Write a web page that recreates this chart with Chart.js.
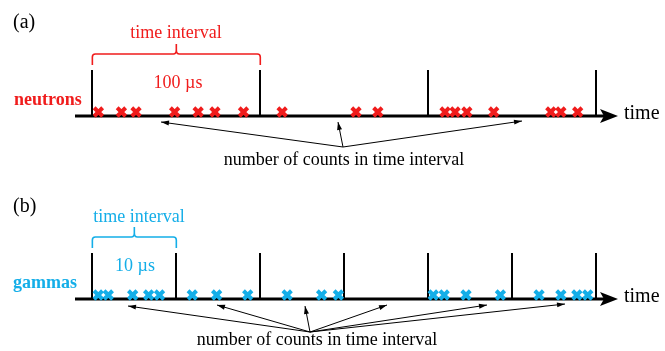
<!DOCTYPE html>
<html>
<head>
<meta charset="utf-8">
<script src="https://cdn.jsdelivr.net/npm/chart.js@4.4.0/dist/chart.umd.min.js"></script>
<style>
  html, body { margin: 0; padding: 0; background: #fff; }
  #wrap { width: 665px; height: 351px; }
</style>
</head>
<body>
<div id="wrap"><canvas id="counts" width="665" height="351"></canvas></div>
<script>
// arrival times (µs)
const neutronTimes = [3.6, 17.3, 26, 49, 63, 73, 90, 113, 157, 170, 210, 216, 223, 239, 273, 279, 289];
const gammaTimes = [0.7, 1.9, 4.8, 6.7, 8.0, 11.9, 14.8, 18.5, 23.2, 27.3, 29.3, 40.6, 41.9, 44.5, 48.6, 53.2, 55.8, 57.7, 59.0];
// interval edges (µs)
const neutronEdges = [0, 100, 200, 300];
const gammaEdges = [0, 10, 20, 30, 40, 50, 60];

const RED = "#f01c1c";
const CYAN = "#14aee8";
const SERIF = "'Liberation Serif', 'DejaVu Serif', serif";

const rowN = 1, rowG = 0;

function marks(times, row) {
    return times.map(t => ({ x: t, y: row }));
}

function arrow(ctx, x0, y0, x1, y1) {
    ctx.beginPath();
    ctx.moveTo(x0, y0);
    ctx.lineTo(x1, y1);
    ctx.stroke();
    const a = Math.atan2(y1 - y0, x1 - x0);
    ctx.beginPath();
    ctx.moveTo(x1, y1);
    ctx.lineTo(x1 - 8 * Math.cos(a) + 2.5 * Math.sin(a), y1 - 8 * Math.sin(a) - 2.5 * Math.cos(a));
    ctx.lineTo(x1 - 8 * Math.cos(a) - 2.5 * Math.sin(a), y1 - 8 * Math.sin(a) + 2.5 * Math.cos(a));
    ctx.closePath();
    ctx.fill();
}

function brace(ctx, x0, x1, y, color) {
    const xm = (x0 + x1) / 2;
    ctx.strokeStyle = color;
    ctx.lineWidth = 1.6;
    ctx.beginPath();
    ctx.moveTo(x0, y + 11);
    ctx.lineTo(x0, y + 3);
    ctx.quadraticCurveTo(x0, y, x0 + 3, y);
    ctx.lineTo(xm - 3, y);
    ctx.quadraticCurveTo(xm, y, xm, y - 4);
    ctx.lineTo(xm, y - 10);
    ctx.moveTo(xm, y - 4);
    ctx.quadraticCurveTo(xm, y, xm + 3, y);
    ctx.lineTo(x1 - 3, y);
    ctx.quadraticCurveTo(x1, y, x1, y + 3);
    ctx.lineTo(x1, y + 11);
    ctx.stroke();
}

// time axes, interval edges and braces under the marks
const axesPlugin = {
    id: "timeAxes",
    beforeDatasetsDraw(chart) {
        const ctx = chart.ctx;
        const xn = chart.scales.xn, xg = chart.scales.xg, y = chart.scales.y;
        const rows = [
            { sc: xn, yy: y.getPixelForValue(rowN) + 4, edges: neutronEdges, top: 70 },
            { sc: xg, yy: y.getPixelForValue(rowG) + 4, edges: gammaEdges, top: 253 }
        ];
        ctx.save();
        ctx.fillStyle = "#000";
        ctx.strokeStyle = "#000";
        rows.forEach(r => {
            ctx.lineWidth = 3;
            ctx.beginPath();
            ctx.moveTo(75, r.yy);
            ctx.lineTo(604, r.yy);
            ctx.stroke();
            ctx.beginPath();
            ctx.moveTo(618, r.yy);
            ctx.lineTo(600, r.yy - 7);
            ctx.lineTo(604, r.yy);
            ctx.lineTo(600, r.yy + 7);
            ctx.closePath();
            ctx.fill();
            ctx.lineWidth = 2;
            r.edges.forEach(e => {
                const px = Math.round(r.sc.getPixelForValue(e));
                ctx.beginPath();
                ctx.moveTo(px, r.top);
                ctx.lineTo(px, r.yy);
                ctx.stroke();
            });
        });
        brace(ctx, xn.getPixelForValue(neutronEdges[0]), xn.getPixelForValue(neutronEdges[1]), 54, RED);
        brace(ctx, xg.getPixelForValue(gammaEdges[0]), xg.getPixelForValue(gammaEdges[1]), 237, CYAN);
        ctx.restore();
    },
    afterDraw(chart) {
        const ctx = chart.ctx;
        ctx.save();
        ctx.textBaseline = "middle";
        ctx.textAlign = "left";
        ctx.fillStyle = "#000";
        ctx.font = "20px " + SERIF;
        ctx.fillText("(a)", 13, 23);
        ctx.fillText("(b)", 13, 207);
        ctx.fillText("time", 624, 114);
        ctx.fillText("time", 624, 297);

        ctx.font = "bold 18px " + SERIF;
        ctx.fillStyle = RED;
        ctx.fillText("neutrons", 14, 100);
        ctx.fillStyle = CYAN;
        ctx.fillText("gammas", 13, 283);

        ctx.textAlign = "center";
        ctx.font = "18px " + SERIF;
        ctx.fillStyle = RED;
        ctx.fillText("time interval", 176, 33);
        ctx.fillText("100 µs", 178, 83);
        ctx.fillStyle = CYAN;
        ctx.fillText("time interval", 139, 217);
        ctx.fillText("10 µs", 135, 266);

        ctx.fillStyle = "#000";
        ctx.fillText("number of counts in time interval", 344, 160);
        ctx.fillText("number of counts in time interval", 317, 340);

        ctx.strokeStyle = "#000";
        ctx.lineWidth = 1;
        [[161, 122], [338, 122], [522, 121]].forEach(p => arrow(ctx, 343, 147, p[0], p[1]));
        [[128, 306], [217, 305], [305, 306], [387, 305], [487, 305], [565, 304]]
            .forEach(p => arrow(ctx, 310, 332, p[0], p[1]));
        ctx.restore();
    }
};

const ctx = document.getElementById("counts");
new Chart(ctx, {
    type: "scatter",
    data: {
        datasets: [
            {
                label: "neutrons",
                data: marks(neutronTimes, rowN),
                xAxisID: "xn",
                pointStyle: "crossRot",
                pointRadius: 6,
                pointBorderWidth: 4,
                borderColor: RED
            },
            {
                label: "neutrons inner",
                data: marks(neutronTimes, rowN),
                xAxisID: "xn",
                pointStyle: "crossRot",
                pointRadius: 4,
                pointBorderWidth: 1,
                borderColor: "#6a5878"
            },
            {
                label: "gammas",
                data: marks(gammaTimes, rowG),
                xAxisID: "xg",
                pointStyle: "crossRot",
                pointRadius: 6,
                pointBorderWidth: 4,
                borderColor: CYAN
            },
            {
                label: "gammas inner",
                data: marks(gammaTimes, rowG),
                xAxisID: "xg",
                pointStyle: "crossRot",
                pointRadius: 4,
                pointBorderWidth: 1.2,
                borderColor: "#1a2a3a"
            }
        ]
    },
    options: {
        responsive: false,
        animation: false,
        layout: { padding: 0, autoPadding: false },
        plugins: { legend: { display: false }, tooltip: { enabled: false } },
        scales: {
            xn: { type: "linear", min: -55, max: 341, display: false },
            xg: { type: "linear", min: -11, max: 68.2, display: false },
            y: { type: "linear", min: -0.306, max: 1.612, display: false }
        }
    },
    plugins: [axesPlugin]
});
</script>
</body>
</html>
